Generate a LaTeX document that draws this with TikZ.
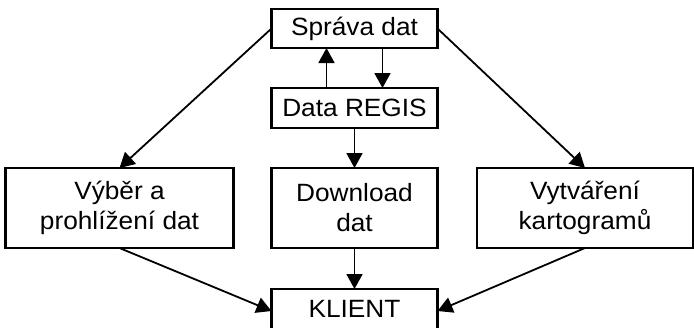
\documentclass[tikz,border=0pt]{standalone}
\usepackage{fontspec}
\setmainfont{Liberation Sans}[FakeStretch=1.05]
\usetikzlibrary{arrows.meta}
\begin{document}
\begin{tikzpicture}[x=1pt,y=-1pt,
  box/.style={draw=black,line width=2.4pt,rectangle,inner sep=0pt,outer sep=0pt,
    align=center,font=\fontsize{25}{30}\selectfont},
  arr/.style={line width=1.8pt,-{Triangle[length=15pt,width=16pt]}}]
\useasboundingbox (0,0) rectangle (694,327);
\node[box,minimum width=166pt,minimum height=39pt] (spr) at (354.5,28.5) {Správa dat};
\node[box,minimum width=166pt,minimum height=40pt] (reg) at (354.5,108) {Data REGIS};
\node[box,minimum width=228pt,minimum height=80pt] (lft) at (119.5,208) {Výběr a\\prohlížení dat};
\node[box,minimum width=166pt,minimum height=80pt] (dwn) at (354.5,208) {Download\\dat};
\node[box,minimum width=216pt,minimum height=80pt] (rgt) at (585,208) {Vytváření\\kartogramů};
\node[box,minimum width=166pt,minimum height=40pt] (kli) at (354.5,309) {KLIENT};
\draw[arr] (spr.west) -- (lft.north);
\draw[arr] (spr.east) -- (rgt.north);
\draw[arr] ([xshift=-28pt]reg.north) -- ([xshift=-28pt]spr.south);
\draw[arr] ([xshift=28pt]spr.south) -- ([xshift=28pt]reg.north);
\draw[arr] (reg.south) -- (dwn.north);
\draw[arr] (dwn.south) -- (kli.north);
\draw[arr] (lft.south) -- ([yshift=-2pt]kli.west);
\draw[arr] (rgt.south) -- ([yshift=-2pt]kli.east);
\end{tikzpicture}
\end{document}
